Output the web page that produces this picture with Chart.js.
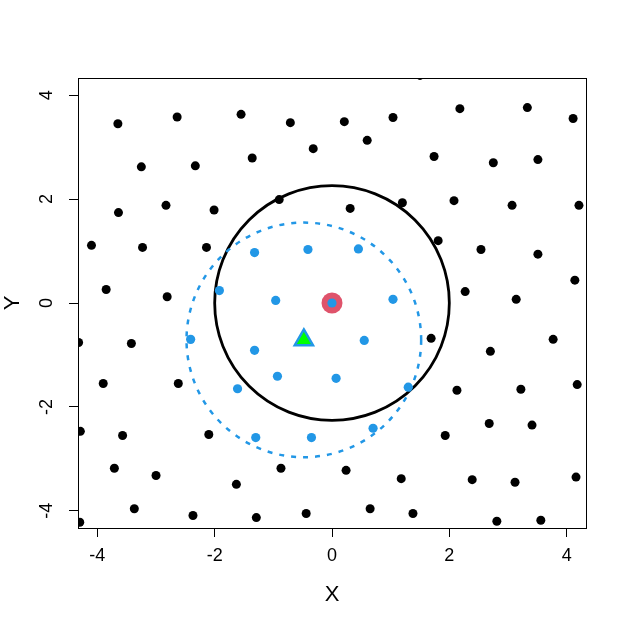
<!DOCTYPE html>
<html lang="en">
<head>
    <meta charset="UTF-8">
    <title>X / Y scatter</title>
    <script src="https://cdn.jsdelivr.net/npm/chart.js"></script>
    <style>
        body { margin: 0; background: #fff; }
        canvas { display: block; }
    </style>
</head>
<body>
    <canvas id="plot" width="627" height="626"></canvas>
    <script>
        // Black background points
        const blackX = [-3.65, -2.64, -1.55, -0.71, -0.32, -1.36, -2.33, -3.25, -3.64, -2.83, -2.01, -0.90,
            -4.10, -3.23, -2.14, -3.85, -2.81,
            0.21, 1.04, 2.18, 3.33, 4.11, 0.60, 1.74, 2.75, 3.51, 0.31, 1.20, 2.08, 3.07, 4.21,
            1.81, 2.54, 3.51, 4.14, 2.27, 3.14, 1.50,
            -4.32, -3.42, -3.90, -2.62, -4.29, -3.57, -2.10, -3.71, -3.00, -1.63, -0.87, -3.37,
            -2.37, -1.29, -0.44, -4.30,
            1.69, 3.77, 2.70, 4.18, 2.13, 3.22, 2.68, 3.41, 1.93, 0.24, 1.18, 2.39, 3.12, 4.16,
            0.65, 1.38, 2.81, 3.56];
        const blackY = [3.45, 3.58, 3.63, 3.47, 2.97, 2.79, 2.64, 2.62, 1.74, 1.88, 1.79, 1.99,
            1.11, 1.07, 1.07, 0.26, 0.12,
            3.49, 3.57, 3.74, 3.76, 3.55, 3.13, 2.82, 2.70, 2.76, 1.82, 1.93, 1.97, 1.88, 1.88,
            1.20, 1.03, 0.94, 0.44, 0.22, 0.07, 4.38,
            -0.76, -0.78, -1.55, -1.55, -2.47, -2.55, -2.53, -3.18, -3.32, -3.49, -3.18, -3.96,
            -4.09, -4.13, -4.05, -4.22,
            -0.68, -0.70, -0.93, -1.57, -1.68, -1.66, -2.32, -2.35, -2.55, -3.22, -3.38, -3.40, -3.45, -3.35,
            -3.96, -4.05, -4.20, -4.18];

        // Blue points inside the dashed circle
        const blueX = [0, -1.32, -0.41, 0.45, -1.92, -0.96, 1.04, -2.41, -1.32, 0.55, -0.93, 0.07,
            -1.61, 1.30, -1.30, -0.35, 0.70];
        const blueY = [0, 0.97, 1.03, 1.04, 0.24, 0.05, 0.07, -0.70, -0.91, -0.72, -1.41, -1.45,
            -1.65, -1.62, -2.59, -2.59, -2.41];

        // Red centre point and green triangle
        const redX = [0];
        const redY = [0];
        const triX = [-0.48];
        const triY = [-0.71];

        // Circles: centre and radius (x units)
        const circleX = [0, -0.48];
        const circleY = [0, -0.71];
        const circleR = [2, 2];

        const xTicks = [-4, -2, 0, 2, 4];
        const yTicks = [-4, -2, 0, 2, 4];
        const axisMin = -4.33;
        const axisMax = 4.33;

        const toPoints = (xs, ys) => xs.map((v, i) => ({ x: v, y: ys[i] }));

        const circleStyles = [
            { color: '#000000', width: 2.8, dash: [] },
            { color: '#2297E6', width: 2.5, dash: [5, 7] }
        ];

        const circlePlugin = {
            id: 'circles',
            beforeDatasetsDraw(chart) {
                const { ctx, chartArea, scales } = chart;
                ctx.save();
                ctx.beginPath();
                ctx.rect(chartArea.left, chartArea.top, chartArea.width, chartArea.height);
                ctx.clip();
                circleX.forEach((cx, i) => {
                    const px = scales.x.getPixelForValue(cx);
                    const py = scales.y.getPixelForValue(circleY[i]);
                    const r = scales.x.getPixelForValue(cx + circleR[i]) - px;
                    ctx.beginPath();
                    ctx.arc(px, py, r, 0, 2 * Math.PI);
                    ctx.lineWidth = circleStyles[i].width;
                    ctx.strokeStyle = circleStyles[i].color;
                    ctx.setLineDash(circleStyles[i].dash);
                    ctx.stroke();
                });
                ctx.restore();
            },
            afterDraw(chart) {
                // box around the plot region
                const { ctx, chartArea } = chart;
                ctx.save();
                ctx.strokeStyle = '#000';
                ctx.lineWidth = 1;
                ctx.strokeRect(Math.round(chartArea.left) + 0.5, Math.round(chartArea.top) + 0.5,
                    Math.round(chartArea.width), Math.round(chartArea.height));
                ctx.restore();
            }
        };

        const tickFont = { family: "'Liberation Sans', Arial, sans-serif", size: 18 };
        const titleFont = { family: "'Liberation Sans', Arial, sans-serif", size: 22, lineHeight: 1 };

        const ctx = document.getElementById('plot').getContext('2d');
        new Chart(ctx, {
            type: 'scatter',
            data: {
                datasets: [
                    {
                        data: toPoints(triX, triY), order: 0, clip: 0,
                        pointStyle: 'triangle', pointRadius: 10.5, borderWidth: 2.5,
                        backgroundColor: '#00FF00', borderColor: '#2297E6'
                    },
                    {
                        data: toPoints(blueX, blueY), order: 1, clip: 0,
                        pointRadius: 4.6, borderWidth: 0,
                        backgroundColor: '#2297E6', borderColor: '#2297E6'
                    },
                    {
                        data: toPoints(redX, redY), order: 2, clip: 0,
                        pointRadius: 10.5, borderWidth: 0,
                        backgroundColor: '#DF536B', borderColor: '#DF536B'
                    },
                    {
                        data: toPoints(blackX, blackY), order: 3, clip: 0,
                        pointRadius: 4.5, borderWidth: 0,
                        backgroundColor: '#000000', borderColor: '#000000'
                    }
                ]
            },
            options: {
                responsive: false,
                animation: false,
                events: [],
                layout: { padding: { left: 0, top: 78, right: 41, bottom: 0 } },
                plugins: {
                    legend: { display: false },
                    tooltip: { enabled: false }
                },
                scales: {
                    x: {
                        type: 'linear',
                        min: axisMin,
                        max: axisMax,
                        afterBuildTicks: (scale) => { scale.ticks = xTicks.map(v => ({ value: v })); },
                        afterFit: (scale) => { scale.height = 98; },
                        grid: { drawOnChartArea: false, drawTicks: true, tickLength: 9, color: '#000', lineWidth: 1 },
                        border: { display: true, color: '#000', width: 1 },
                        ticks: { color: '#000', font: tickFont, padding: 8, maxRotation: 0, callback: (v) => String(v) },
                        title: { display: true, text: 'X', color: '#000', font: titleFont, padding: { top: 0, bottom: 20 } }
                    },
                    y: {
                        type: 'linear',
                        min: axisMin,
                        max: axisMax,
                        afterBuildTicks: (scale) => { scale.ticks = yTicks.map(v => ({ value: v })); },
                        afterFit: (scale) => { scale.width = 78; },
                        grid: { drawOnChartArea: false, drawTicks: true, tickLength: 9, color: '#000', lineWidth: 1 },
                        border: { display: true, color: '#000', width: 1 },
                        ticks: {
                            color: '#000', font: tickFont, padding: 14,
                            minRotation: 90, maxRotation: 90, crossAlign: 'center',
                            callback: (v) => String(v)
                        },
                        title: { display: true, text: 'Y', color: '#000', font: titleFont, padding: { top: 2, bottom: 0 } }
                    }
                }
            },
            plugins: [circlePlugin]
        });
    </script>
</body>
</html>
